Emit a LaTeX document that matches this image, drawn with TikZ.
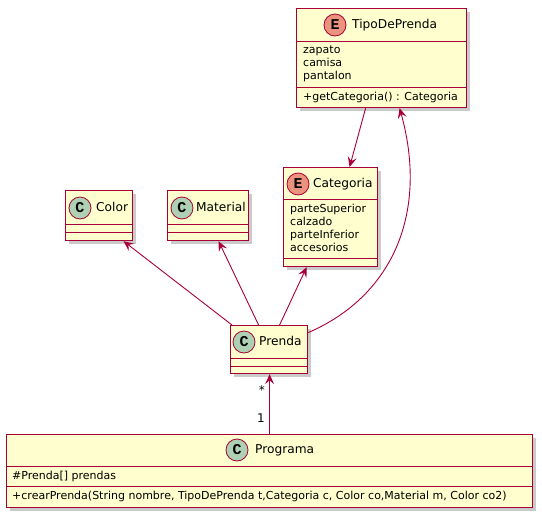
\documentclass[tikz,border=0pt]{standalone}
\usepackage{fontspec}
\setmainfont{DejaVu Sans}
\newfontfamily\circfont{Liberation Mono}
\usetikzlibrary{arrows.meta,shadows}
\definecolor{bord}{HTML}{A80036}
\definecolor{cfill}{HTML}{FEFECE}
\definecolor{cgreen}{HTML}{ADD1B2}
\definecolor{ered}{HTML}{EB937F}
\tikzset{
  cls/.style={draw=bord, fill=cfill, line width=1.2pt, inner sep=0pt, anchor=north west,
    drop shadow={shadow xshift=3pt, shadow yshift=-3pt, opacity=0.35, fill=black!60}},
  sepline/.style={draw=bord, line width=1pt},
  circ/.style={circle, draw=bord, line width=0.8pt, minimum size=22pt, inner sep=0pt,
    font=\circfont\bfseries\fontsize{15}{15}\selectfont},
  ccirc/.style={circ, fill=cgreen},
  ecirc/.style={circ, fill=ered},
  ttl/.style={anchor=west, inner sep=0pt, font=\fontsize{12.2}{14}\selectfont, text height=9pt, text depth=2.5pt},
  mem/.style={anchor=west, inner sep=0pt, font=\fontsize{11}{13}\selectfont, text height=8.2pt, text depth=2.3pt},
  mult/.style={anchor=east, inner sep=0pt, font=\fontsize{12}{13}\selectfont},
  assoc/.style={draw=bord, line width=0.9pt, -{Stealth[length=10pt, width=9pt, inset=4pt]}}
}
\begin{document}
\begin{tikzpicture}[x=1pt, y=-1pt]
\useasboundingbox (0,0) rectangle (542,517);

% TipoDePrenda
\node[cls, minimum width=170pt, minimum height=99pt] (tipo) at (296,8) {};
\draw[sepline] (296,41) -- (466,41);
\draw[sepline] (296,87) -- (466,87);
\node[ecirc] (tipoc) at (335,25) {E};
\node[ttl] (tipot) at (352,25) {TipoDePrenda};
\node[mem] (tipo1) at (303,51) {zapato};
\node[mem] (tipo2) at (303,64) {camisa};
\node[mem] (tipo3) at (303,77) {pantalon};
\node[mem] (tipo4) at (303,98) {+getCategoria() : Categoria};

% Categoria
\node[cls, minimum width=94pt, minimum height=99pt] (cat) at (283,167) {};
\draw[sepline] (283,199) -- (377,199);
\draw[sepline] (283,258) -- (377,258);
\node[ecirc] (catc) at (298,184) {E};
\node[ttl] (catt) at (313,184) {Categoria};
\node[mem] (cat1) at (290,210) {parteSuperior};
\node[mem] (cat2) at (290,223) {calzado};
\node[mem] (cat3) at (290,236) {parteInferior};
\node[mem] (cat4) at (290,249) {accesorios};

% Color
\node[cls, minimum width=67pt, minimum height=50pt] (color) at (65,190) {};
\draw[sepline] (65,224) -- (132,224);
\draw[sepline] (65,232) -- (132,232);
\node[ccirc] (colorc) at (80,208) {C};
\node[ttl] (colort) at (96,208) {Color};

% Material
\node[cls, minimum width=81pt, minimum height=50pt] (mat) at (167,190) {};
\draw[sepline] (167,224) -- (248,224);
\draw[sepline] (167,232) -- (248,232);
\node[ccirc] (matc) at (182,208) {C};
\node[ttl] (matt) at (196,208) {Material};

% Prenda
\node[cls, minimum width=77pt, minimum height=48pt] (prenda) at (230,325) {};
\draw[sepline] (230,358) -- (307,358);
\draw[sepline] (230,366) -- (307,366);
\node[ccirc] (prendac) at (244,342) {C};
\node[ttl] (prendat) at (259,342) {Prenda};

% Programa
\node[cls, minimum width=526pt, minimum height=73pt] (prog) at (6,434) {};
\draw[sepline] (6,466) -- (532,466);
\draw[sepline] (6,486) -- (532,486);
\node[ccirc] (progc) at (237,450) {C};
\node[ttl] (progt) at (255,450) {Programa};
\node[mem] (prog1) at (12,477) {\#Prenda[] prendas};
\node[mem] (prog2) at (12,497) {+crearPrenda(String nombre, TipoDePrenda t,Categoria c, Color co,Material m, Color co2)};

% connectors
\draw[assoc] ([xshift=-16pt]tipo.south) -- ([xshift=19pt]cat.north);
\draw[assoc] ([xshift=2pt]prenda.north west) -- ([xshift=24.5pt]color.south);
\draw[assoc] ([xshift=-10.5pt]prenda.north) -- ([xshift=10.5pt]mat.south);
\draw[assoc] ([xshift=10.5pt]prenda.north) -- ([xshift=-24pt]cat.south);
\draw[assoc] ([yshift=17pt]prenda.east) .. controls (395,295) and (428,210) .. ([xshift=18pt]tipo.south);
\draw[assoc] (prog.north) -- (prog.north |- prenda.south);
\node[mult] (m1) at (265,390) {*};
\node[mult] (m2) at (265,418) {1};
\end{tikzpicture}
\end{document}
